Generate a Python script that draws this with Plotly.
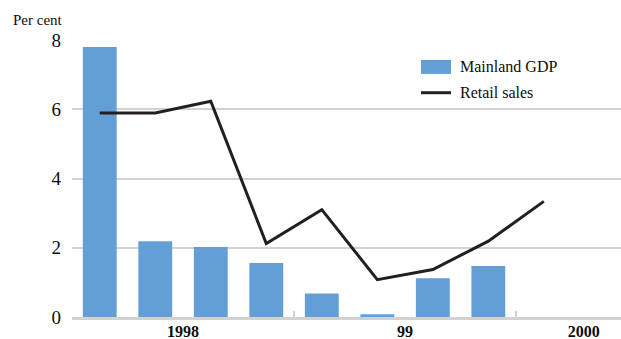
import plotly.graph_objects as go

# Quarterly data, 1998 Q1 - 2000 Q1 (per cent)
quarters = ["1998Q1", "1998Q2", "1998Q3", "1998Q4",
            "1999Q1", "1999Q2", "1999Q3", "1999Q4", "2000Q1"]
mainland_gdp = [7.8, 2.19, 2.02, 1.56, 0.68, 0.08, 1.12, 1.47]
retail_sales = [5.89, 5.89, 6.23, 2.12, 3.1, 1.08, 1.37, 2.19, 3.34]

year_labels = ["1998", "99", "2000"]
year_label_pos = [1.5, 5.5, 8.72]
year_breaks = [3.5, 7.5]

BAR_BLUE = "#639fd6"
LINE_BLACK = "#231f20"
GRID_GREY = "#d2d2d2"
TEXT = "#0d0d0d"
FONT = "'Liberation Serif', 'Times New Roman', 'DejaVu Serif', serif"

W, H = 621, 339
ML, MR, MT, MB = 72, 0, 39.5, 22

x_bar = list(range(len(mainland_gdp)))
x_line = list(range(len(retail_sales)))

fig = go.Figure()
fig.add_trace(go.Bar(
    x=x_bar, y=mainland_gdp, width=0.61,
    marker=dict(color=BAR_BLUE, line=dict(width=0)),
    name="Mainland GDP", showlegend=False,
    hovertext=quarters[:len(mainland_gdp)],
))
fig.add_trace(go.Scatter(
    x=x_line, y=retail_sales, mode="lines",
    line=dict(color=LINE_BLACK, width=3),
    name="Retail sales", showlegend=False,
    hovertext=quarters,
))


def px_to_paper(px, py):
    pw = W - ML - MR
    ph = H - MT - MB
    return (px - ML) / pw, (H - MB - py) / ph


# Legend drawn as swatches plus labels
x0, y0 = px_to_paper(421, 59.5)
x1, y1 = px_to_paper(451, 73.5)
fig.add_shape(type="rect", xref="paper", yref="paper",
              x0=x0, x1=x1, y0=y1, y1=y0,
              fillcolor=BAR_BLUE, line=dict(width=0))
lx0, ly = px_to_paper(421, 92.3)
lx1, _ = px_to_paper(451, 92.3)
fig.add_shape(type="line", xref="paper", yref="paper",
              x0=lx0, x1=lx1, y0=ly, y1=ly,
              line=dict(color=LINE_BLACK, width=3))
for label, py in [("Mainland GDP", 66.5), ("Retail sales", 92)]:
    tx, ty = px_to_paper(458, py)
    fig.add_annotation(text=label, xref="paper", yref="paper",
                       x=tx, y=ty, xanchor="left", yanchor="middle",
                       showarrow=False,
                       font=dict(family=FONT, size=16, color=TEXT))

# Unit label above the value axis
ux, uy = px_to_paper(11, 19)
fig.add_annotation(text="Per cent", xref="paper", yref="paper",
                   x=ux, y=uy, xanchor="left", yanchor="middle",
                   showarrow=False,
                   font=dict(family=FONT, size=15, color=TEXT))

fig.update_layout(
    width=W, height=H,
    margin=dict(l=ML, r=MR, t=MT, b=MB, pad=0),
    paper_bgcolor="white", plot_bgcolor="white",
    font=dict(family=FONT, color=TEXT),
    bargap=0.39,
)
fig.update_xaxes(
    range=[-0.5, 9.39],
    tickmode="array", tickvals=year_label_pos, ticktext=year_labels,
    ticks="", showgrid=False, zeroline=False,
    showline=True, linecolor=GRID_GREY, linewidth=2.5,
    tickfont=dict(family=FONT, size=16, color=TEXT, weight="bold"),
    ticklabelstandoff=-2,
    minor=dict(tickmode="array", tickvals=year_breaks, ticks="inside",
               ticklen=6, tickwidth=2, tickcolor=GRID_GREY, showgrid=False),
    automargin=False, fixedrange=True,
)
fig.update_yaxes(
    range=[0, 8], tickmode="array", tickvals=[0, 2, 4, 6, 8],
    showgrid=True, gridcolor=GRID_GREY, gridwidth=2,
    zeroline=False, showline=False, ticks="",
    tickfont=dict(family=FONT, size=19, color=TEXT),
    ticklabelstandoff=10,
    automargin=False, fixedrange=True,
)

fig.write_html("out.html", config={"displayModeBar": False})
